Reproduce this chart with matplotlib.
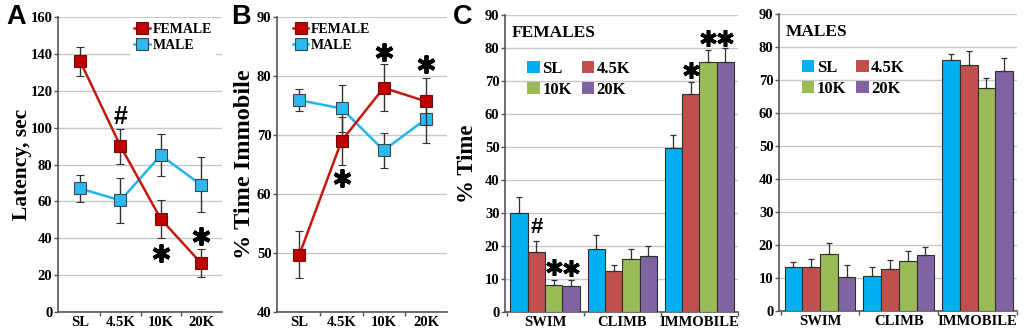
import matplotlib
matplotlib.use("Agg")
import matplotlib.pyplot as plt
from matplotlib.patches import Patch
from matplotlib.lines import Line2D
import numpy as np

# ---------------- data ----------------
doses = ["SL", "4.5K", "10K", "20K"]

lat_female = [136, 90, 50.5, 26.5]
lat_female_err = [8, 9.5, 10.5, 7.5]
lat_male = [67, 60.5, 85, 69]
lat_male_err = [7.5, 12, 11.5, 15]

imm_female = [49.7, 69, 78, 75.7]
imm_female_err = [4, 4, 4, 4]
imm_male = [75.9, 74.5, 67.4, 72.7]
imm_male_err = [1.9, 4, 3, 4]

behaviors = ["SWIM", "CLIMB", "IMMOBILE"]
fem_bars = {
    "SL":   [30.0, 19.2, 49.8],
    "4.5K": [18.2, 12.3, 66.0],
    "10K":  [8.1, 16.2, 75.8],
    "20K":  [7.8, 16.9, 75.7],
}
fem_err = {
    "SL":   [4.9, 4.0, 3.8],
    "4.5K": [3.2, 1.9, 3.8],
    "10K":  [1.5, 2.8, 3.6],
    "20K":  [2.0, 3.1, 4.2],
}
male_bars = {
    "SL":   [13.2, 10.7, 76.0],
    "4.5K": [13.2, 12.6, 74.5],
    "10K":  [17.3, 15.2, 67.6],
    "20K":  [10.4, 17.0, 72.8],
}
male_err = {
    "SL":   [1.6, 2.5, 1.8],
    "4.5K": [2.6, 3.0, 4.3],
    "10K":  [3.3, 3.1, 3.1],
    "20K":  [3.4, 2.5, 4.0],
}

# significance marks: (x index, y value, symbol)
marks_A = [(1, 106, "#"), (2, 32, "*"), (3, 41, "*")]
marks_B = [(1, 62.7, "*"), (2, 84, "*"), (3, 82, "*")]
marks_C = [(0, 1, 25.5, "#"), (0, 2, 13.6, "*"), (0, 3, 13.4, "*"),
           (2, 1, 73.3, "*"), (2, 2, 83, "*"), (2, 3, 83, "*")]

bar_colors = {"SL": "#00B0F0", "4.5K": "#C0504D", "10K": "#9BBB59", "20K": "#8064A2"}
fem_col = "#C41A0E"
male_col = "#22B4EC"

# ---------------- style ----------------
SERIF = "Liberation Serif"
SANS = "Liberation Sans"
plt.rcParams["font.family"] = [SERIF, "DejaVu Serif"]
plt.rcParams["font.weight"] = "bold"

W, H = 1024, 332
fig = plt.figure(figsize=(W / 100, H / 100), dpi=100)


def axes_px(left, right, top, bottom):
    return fig.add_axes([left / W, 1 - bottom / H, (right - left) / W, (bottom - top) / H])


def style_axes(ax, ymin, ymax, step):
    for s in ["top", "right"]:
        ax.spines[s].set_visible(False)
    for s in ["left", "bottom"]:
        ax.spines[s].set_color("#555555")
        ax.spines[s].set_linewidth(1.2)
    ax.set_ylim(ymin, ymax)
    ax.set_yticks(np.arange(ymin, ymax + 0.1, step))
    ax.yaxis.grid(True, color="#C8C8C8", linewidth=1.0)
    ax.set_axisbelow(True)
    ax.tick_params(axis="y", direction="out", length=3, width=1, color="#555555",
                   labelsize=10.5, pad=1)
    ax.tick_params(axis="x", which="major", length=0, labelsize=10.5, pad=3)
    ax.tick_params(axis="x", which="minor", direction="out", length=3, width=1,
                   color="#555555")
    for lab in ax.get_yticklabels() + ax.get_xticklabels():
        lab.set_fontweight("bold")


def draw_star(ax, x, y, size=11, lw=2.6):
    ax.plot([x], [y], marker=(6, 2, 0), markersize=size, color="black",
            markeredgewidth=lw, linestyle="none", zorder=6, clip_on=False)


def draw_mark(ax, x, y, sym, size=11, hsize=17, lw=2.6):
    if sym == "*":
        draw_star(ax, x, y, size, lw)
    else:
        ax.text(x, y, sym, ha="center", va="center", fontsize=hsize,
                fontweight="bold", family=SANS, zorder=6)


# ---------------- Panel A ----------------
xi = np.arange(len(doses))
axA = axes_px(58, 222, 17, 312)
style_axes(axA, 0, 160, 20)
axA.set_xlim(-0.55, 3.52)
axA.set_xticks(xi)
axA.set_xticklabels(doses, fontweight="bold")
axA.set_xticks([0.5, 1.5, 2.5], minor=True)
axA.errorbar(xi, lat_female, yerr=lat_female_err, color=fem_col, lw=1.8,
             marker="s", markersize=9, markerfacecolor="#C00000",
             markeredgecolor="#6a1010", markeredgewidth=0.8,
             ecolor="#333333", elinewidth=1, capsize=3, zorder=4)
axA.errorbar(xi, lat_male, yerr=lat_male_err, color=male_col, lw=1.8,
             marker="s", markersize=9, markerfacecolor="#2CB8F0",
             markeredgecolor="#444444", markeredgewidth=0.8,
             ecolor="#333333", elinewidth=1, capsize=3, zorder=3)
axA.set_ylabel("Latency, sec", fontsize=15.5, fontweight="bold")
axA.yaxis.set_label_coords(-0.16, 0.5)
for x, y, s in marks_A:
    draw_mark(axA, x, y, s, size=13, hsize=18, lw=2.8)


def line_legend(ax, anchor):
    h = [Line2D([0], [0], color=fem_col, lw=1.8, marker="s", markersize=8,
                markerfacecolor="#C00000", markeredgecolor="#6a1010", markeredgewidth=0.8),
         Line2D([0], [0], color=male_col, lw=1.8, marker="s", markersize=8,
                markerfacecolor="#2CB8F0", markeredgecolor="#444444", markeredgewidth=0.8)]
    leg = ax.legend(h, ["FEMALE", "MALE"], loc="upper left", bbox_to_anchor=anchor,
                    frameon=True, fancybox=False, handlelength=1.1, handletextpad=0.2,
                    borderaxespad=0, borderpad=0.3, labelspacing=0.25,
                    prop={"family": SERIF, "weight": "bold", "size": 10})
    leg.get_frame().set_facecolor("white")
    leg.get_frame().set_edgecolor("none")
    leg.get_frame().set_alpha(1)
    leg.set_zorder(7)


line_legend(axA, (0.44, 0.995))

# ---------------- Panel B ----------------
axB = axes_px(277, 447, 17, 312)
style_axes(axB, 40, 90, 10)
axB.set_xlim(-0.53, 3.5)
axB.set_xticks(xi)
axB.set_xticklabels(doses, fontweight="bold")
axB.set_xticks([0.5, 1.5, 2.5], minor=True)
axB.errorbar(xi, imm_female, yerr=imm_female_err, color=fem_col, lw=1.8,
             marker="s", markersize=9, markerfacecolor="#C00000",
             markeredgecolor="#6a1010", markeredgewidth=0.8,
             ecolor="#333333", elinewidth=1, capsize=3, zorder=4)
axB.errorbar(xi, imm_male, yerr=imm_male_err, color=male_col, lw=1.8,
             marker="s", markersize=9, markerfacecolor="#2CB8F0",
             markeredgecolor="#444444", markeredgewidth=0.8,
             ecolor="#333333", elinewidth=1, capsize=3, zorder=3)
axB.set_ylabel("% Time Immobile", fontsize=17.5, fontweight="bold")
axB.yaxis.set_label_coords(-0.13, 0.5)
for x, y, s in marks_B:
    draw_mark(axB, x, y, s, size=13, lw=2.8)
line_legend(axB, (0.07, 0.995))


# ---------------- Bar panels ----------------
def bar_panel(ax, data, err, title, marks):
    style_axes(ax, 0, 90, 10)
    gx = np.arange(len(behaviors))
    w = 0.225
    handles = {}
    for i, k in enumerate(doses):
        pos = gx + (i - 1.5) * w
        ax.bar(pos, data[k], width=w, color=bar_colors[k], edgecolor="#303030",
               linewidth=0.8, zorder=3)
        ax.errorbar(pos, data[k], yerr=[np.zeros(len(behaviors)), err[k]],
                    fmt="none", ecolor="#303030", elinewidth=0.9, capsize=2.5,
                    capthick=0.9, zorder=4)
        handles[k] = Patch(facecolor=bar_colors[k], edgecolor="none")
    ax.set_xlim(-0.52, 2.5)
    ax.set_xticks(gx)
    ax.set_xticklabels(behaviors, fontweight="bold", fontsize=10.5)
    ax.set_xticks([-0.5, 0.5, 1.5, 2.5], minor=True)
    ax.text(0.03, 0.94, title, transform=ax.transAxes, ha="left", va="center",
            fontsize=12.5, fontweight="bold", family=SERIF)
    # row-major order: SL 4.5K / 10K 20K  (matplotlib fills columns first)
    order = [doses[0], doses[2], doses[1], doses[3]]
    ax.legend([handles[k] for k in order], order, loc="upper left",
              bbox_to_anchor=(0.095, 0.845),
              ncol=2, frameon=False, handlelength=0.75, handleheight=0.75,
              handletextpad=0.15, columnspacing=0.6, labelspacing=0.3,
              borderaxespad=0, borderpad=0,
              prop={"family": SERIF, "weight": "bold", "size": 12})
    for gi, di, y, s in marks:
        draw_mark(ax, gi + (di - 1.5) * w, y, s, size=12, hsize=16, lw=2.6)


axC = axes_px(505, 738, 15, 312)
bar_panel(axC, fem_bars, fem_err, "FEMALES", marks_C)
axC.set_ylabel("% Time", fontsize=16.5, fontweight="bold")
axC.yaxis.set_label_coords(-0.115, 0.5)

axD = axes_px(779, 1017, 14, 311)
bar_panel(axD, male_bars, male_err, "MALES", [])

# panel letters
for txt, x in [("A", 6), ("B", 231), ("C", 453)]:
    fig.text(x / W, 1 - 4 / H, txt, ha="left", va="top", fontsize=19.5,
             fontweight="bold", family=SANS)

fig.savefig("out.png", dpi=100)
